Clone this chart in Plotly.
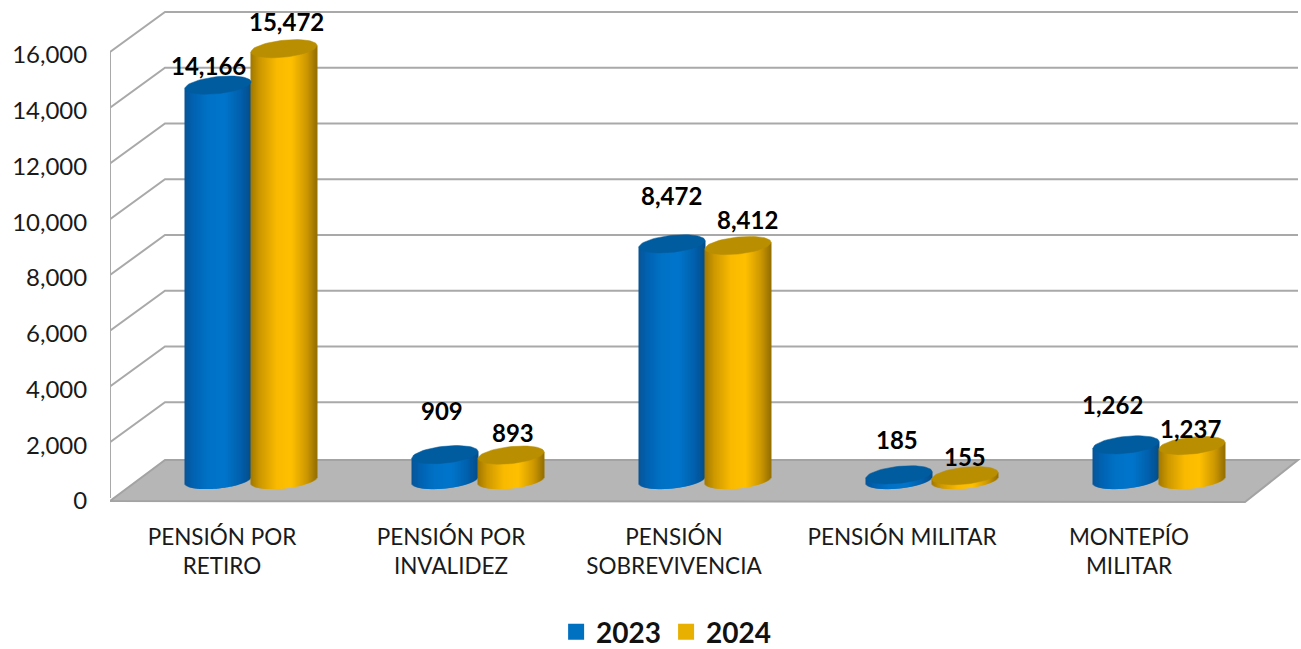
import numpy as np
import plotly.graph_objects as go

categories = ["PENSIÓN POR<br>RETIRO", "PENSIÓN POR<br>INVALIDEZ", "PENSIÓN<br>SOBREVIVENCIA", "PENSIÓN MILITAR", "MONTEPÍO<br>MILITAR"]
values_2023 = [14166, 909, 8472, 185, 1262]
values_2024 = [15472, 893, 8412, 155, 1237]
y_ticks = [0, 2000, 4000, 6000, 8000, 10000, 12000, 14000, 16000]

FONT = "Lato"
W, H = 1301, 649
L, PB = 110, 510            # plot area: pixel left, pixel bottom
CAT0, CATW = 222, 227       # pixel of first category, pixels per category
PX_PER_UNIT = 446 / 16000
Y0 = 498                    # pixel of value 0 on the front axis

def X(px): return (np.asarray(px, float) - CAT0) / CATW
def Y(py): return (Y0 - np.asarray(py, float)) / PX_PER_UNIT
def DY(p): return np.asarray(p, float) / PX_PER_UNIT

GROUP_SHIFT = 29 / CATW
HALF_W = 33 / CATW
CYL_OFF = 33 / CATW
BASE = DY(18)
RY, TILT = 8.5, 3.3
LABEL_PX = [222, 451, 674, 902, 1129]

def lerp_colors(stops, t):
    ts = [s[0] for s in stops]
    chans = [np.interp(t, ts, [s[1][i] for s in stops]) for i in range(3)]
    return ["rgb(%d,%d,%d)" % (a, b, c) for a, b, c in zip(*chans)]

BLUE_STOPS = [(0, (8, 84, 150)), (.12, (2, 98, 176)), (.35, (0, 114, 198)), (.6, (0, 118, 204)), (.85, (2, 96, 172)), (1, (6, 78, 138))]
GOLD_STOPS = [(0, (160, 120, 0)), (.14, (205, 152, 0)), (.4, (250, 186, 0)), (.62, (255, 192, 0)), (.85, (205, 152, 0)), (1, (150, 112, 0))]

N = 66
u = (np.arange(N) + .5) / N * 2 - 1

def cylinder_arrays(values, side, stops):
    xs, ys, bases, cols = [], [], [], []
    shade = lerp_colors(stops, (u + 1) / 2)
    for i, v in enumerate(values):
        cx = i + GROUP_SHIFT + side * CYL_OFF
        low = BASE + DY(-RY * np.sqrt(1 - u ** 2) + TILT * u)
        top = BASE + v + DY(TILT * u)
        xs += list(cx + u * HALF_W)
        bases += list(low)
        ys += list(top - low)
        cols += shade
    return xs, ys, bases, cols

def cap_trace(v, i, side, color):
    cx = i + GROUP_SHIFT + side * CYL_OFF
    t = np.linspace(0, 2 * np.pi, 61)
    return go.Scatter(x=cx + HALF_W * np.cos(t),
                      y=BASE + v + DY(RY * np.sin(t) + TILT * np.cos(t)),
                      mode="lines", fill="toself", fillcolor=color,
                      line=dict(color=color, width=0.5),
                      showlegend=False, hoverinfo="skip")

fig = go.Figure()

# walls: one gridline per tick, front edge to back edge to right side
GRID = "#a9a9a9"
shapes = []
def path(xs, ys, close=False):
    xs = np.asarray(xs, float); ys = np.asarray(ys, float)
    d = "M " + " L ".join(f"{a:.5f},{b:.2f}" for a, b in zip(xs, ys))
    return d + (" Z" if close else "")

for tv in y_ticks[1:]:
    shapes.append(dict(type="path", layer="below", xref="x", yref="y",
                       path=path(X([110, 165, 1298]), [tv, tv + DY(40), tv + DY(40)]),
                       line=dict(color=GRID, width=2)))
shapes.append(dict(type="line", layer="below", xref="x", yref="y",
                   x0=float(X(110)), x1=float(X(110)), y0=0, y1=16000,
                   line=dict(color=GRID, width=2)))
shapes.append(dict(type="path", layer="below", xref="x", yref="y",
                   path=path(X([110, 165, 1298, 1245]), Y([501, 460, 460, 502]), close=True),
                   fillcolor="#b6b6b6", line=dict(color="#a3a3a3", width=2)))

for vals, side, stops, name in [
    (values_2023, -1, BLUE_STOPS, "2023"),
    (values_2024, 1, GOLD_STOPS, "2024"),
]:
    xs, ys, bases, cols = cylinder_arrays(vals, side, stops)
    fig.add_trace(go.Bar(x=xs, y=ys, base=bases, width=2 * HALF_W / N * 2,
                         marker=dict(color=cols, line=dict(width=0)),
                         name=name, showlegend=False, hoverinfo="skip"))

for vals, side, cap in [(values_2023, -1, "#015c9f"), (values_2024, 1, "#b98e00")]:
    for i, v in enumerate(vals):
        fig.add_trace(cap_trace(v, i, side, cap))

# legend entries
for name, color in [("2023", "#0070c0"), ("2024", "#e8b000")]:
    fig.add_trace(go.Scatter(x=[None], y=[None], mode="markers", name=name,
                             marker=dict(symbol="square", size=18, color=color)))

# data labels: pixel nudges from the cylinder top
nudge_2023 = [(-10, 20), (-3, 44), (-1, 48), (-2, 35), (-14, 40)]
nudge_2024 = [(2, 27), (2, 23), (9, 26), (0, 19), (-2, 17)]
for vals, side, nudges in [(values_2023, -1, nudge_2023), (values_2024, 1, nudge_2024)]:
    for i, (v, (dx, dy)) in enumerate(zip(vals, nudges)):
        fig.add_annotation(x=i + GROUP_SHIFT + side * CYL_OFF, y=BASE + v,
                           text="<b>{:,}</b>".format(v), showarrow=False,
                           xshift=dx, yshift=dy,
                           font=dict(family=FONT, size=24, color="#000000"))

fig.update_layout(
    shapes=shapes,
    template="none",
    width=W, height=H,
    paper_bgcolor="white", plot_bgcolor="white",
    barmode="overlay",
    margin=dict(l=L, r=0, t=0, b=H - PB, pad=0, autoexpand=False),
    font=dict(family=FONT, color="#1a1a1a"),
    xaxis=dict(range=[float(X(L)), float(X(W))], showgrid=False, zeroline=False, showline=False,
               tickmode="array", tickvals=[float(X(p)) for p in LABEL_PX], ticktext=categories,
               tickfont=dict(family=FONT, size=22.5, color="#1a1a1a"),
               ticks="outside", ticklen=7, tickcolor="rgba(0,0,0,0)", fixedrange=True, automargin=False),
    yaxis=dict(range=[float(Y(PB)), float(Y(0))], showgrid=False, zeroline=False, showline=False,
               tickmode="array", tickvals=y_ticks, tickformat=",d",
               tickfont=dict(family=FONT, size=24, color="#1a1a1a"), ticklabelshift=3,
               ticks="outside", ticklen=17, tickcolor="rgba(0,0,0,0)", fixedrange=True, automargin=False),
    legend=dict(orientation="h", xref="container", yref="container", x=0.512, y=0.026,
                xanchor="center", yanchor="middle",
                font=dict(family=FONT, size=28, color="#111111", weight="bold"),
                bgcolor="rgba(0,0,0,0)"),
)
fig.write_html("out.html", config={"displayModeBar": False},
               post_script="document.body.style.margin='0';document.documentElement.style.overflow='hidden';")
